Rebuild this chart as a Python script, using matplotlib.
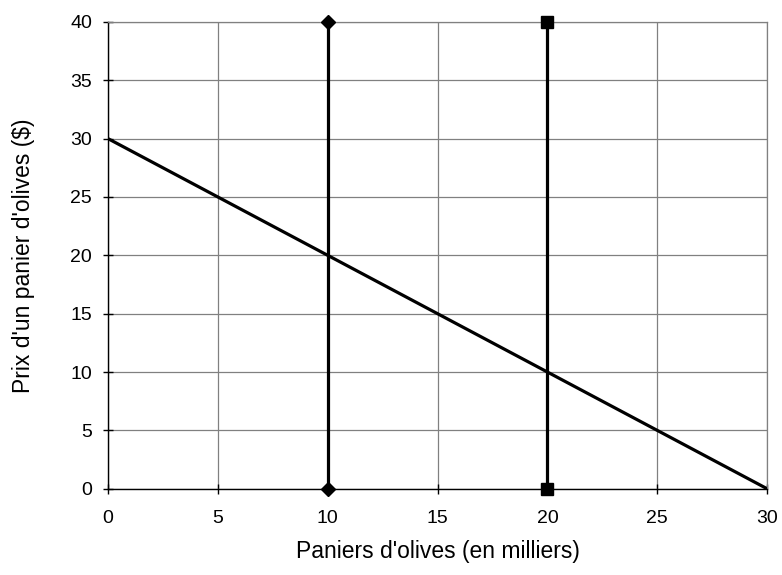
import matplotlib
matplotlib.use("Agg")
import matplotlib.pyplot as plt

plt.rcParams['font.family'] = ['Liberation Sans', 'DejaVu Sans']

# Demand curve and two vertical supply curves
demand_qty = [0, 30]
demand_price = [30, 0]
supply_a_qty = [10, 10]
supply_a_price = [0, 40]
supply_b_qty = [20, 20]
supply_b_price = [0, 40]

x_ticks = [0, 5, 10, 15, 20, 25, 30]
y_ticks = [0, 5, 10, 15, 20, 25, 30, 35, 40]

fig = plt.figure(figsize=(7.82, 5.75), dpi=100)
ax = fig.add_axes([0.138, 0.150, 0.843, 0.812])

ax.plot(demand_qty, demand_price, color='black', lw=2.3, solid_capstyle='butt', zorder=3)
ax.plot(supply_a_qty, supply_a_price, color='black', lw=2.3, marker='D', markersize=7.5,
        clip_on=False, zorder=4)
ax.plot(supply_b_qty, supply_b_price, color='black', lw=2.3, marker='s', markersize=8.5,
        clip_on=False, zorder=4)

ax.set_xlim(0, 30)
ax.set_ylim(0, 40)
ax.set_xticks(x_ticks)
ax.set_yticks(y_ticks)
ax.grid(True, color='#808080', lw=0.9)
ax.set_axisbelow(True)

for side in ['top', 'right']:
    ax.spines[side].set_color('#808080')
    ax.spines[side].set_linewidth(0.9)
for side in ['left', 'bottom']:
    ax.spines[side].set_color('black')
    ax.spines[side].set_linewidth(1.0)

ax.tick_params(axis='both', labelsize=14, direction='inout', length=7, width=1,
               color='black')
ax.tick_params(axis='y', pad=8)
ax.tick_params(axis='x', pad=12)

ax.set_xlabel("Paniers d'olives (en milliers)", fontsize=16.5)
ax.set_ylabel("Prix d'un panier d'olives ($)", fontsize=16.5)
ax.xaxis.set_label_coords(0.5, -0.11)
ax.yaxis.set_label_coords(-0.111, 0.5)

fig.savefig('out.png', dpi=100)
